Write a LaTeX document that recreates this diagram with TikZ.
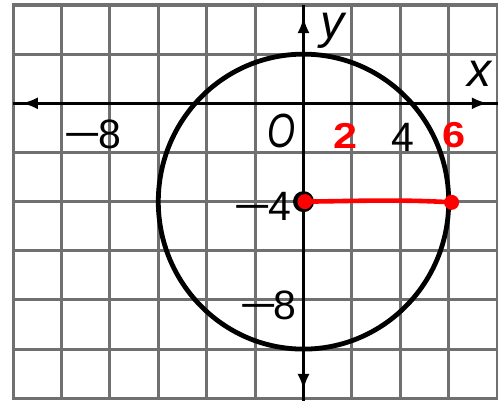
\documentclass[tikz,border=0pt]{standalone}
\usepackage{fontspec}
\usepackage{graphicx}
\setmainfont{Liberation Sans}
\usetikzlibrary{arrows.meta}
\definecolor{gridgray}{RGB}{112,112,112}
\definecolor{inkred}{RGB}{255,0,0}
\begin{document}
\begin{tikzpicture}[x=1pt,y=-1pt,
  gridline/.style={draw=gridgray,line width=3.1pt,line cap=rect},
  axisline/.style={draw=black,line width=2.9pt},
  tipline/.style={draw=black,line width=2.9pt,-{Latex[length=16pt,width=12pt]}},
  curveline/.style={draw=black,line width=4.8pt},
  numlbl/.style={inner sep=0pt,font=\fontsize{41}{41}\selectfont},
  letlbl/.style={inner sep=0pt,font=\fontsize{48}{48}\selectfont\itshape},
  redlbl/.style={inner sep=0pt,text=inkred,font=\fontsize{36}{36}\selectfont\bfseries},
  reddot/.style={circle,fill=inkred,inner sep=0pt,minimum size=15pt},
  blackdot/.style={circle,fill=black,inner sep=0pt,minimum size=21pt},
  redline/.style={draw=inkred,line width=4.6pt,line cap=round}]
\useasboundingbox (0,0) rectangle (498,400);
\fill[white] (0,0) rectangle (498,400);
\begin{scope}[shift={(303.5,103.3)},x=24.2pt,y=24.58pt]
  \foreach \i in {-12,-10,...,8} \draw[gridline] (\i,-12) -- (\i,4);
  \foreach \j in {-12,-10,...,4} \draw[gridline] (-12,\j) -- (8,\j);
  \coordinate (xl) at (-12,0);
  \coordinate (xr) at (8.1,0);
  \coordinate (yt) at (0,4);
  \coordinate (yb) at (0,-12.1);
  \coordinate (o) at (0,0);
  \coordinate (xtipl) at (-11.64,0);
  \coordinate (xtipr) at (7.62,0);
  \coordinate (ytipt) at (0,3.51);
  \coordinate (ytipb) at (0,-11.66);
  \draw[axisline] (xl) -- (xr);
  \draw[axisline] (yt) -- (yb);
  \draw[tipline] (o) -- (xtipl);
  \draw[tipline] (o) -- (xtipr);
  \draw[tipline] (o) -- (ytipt);
  \draw[tipline] (o) -- (ytipb);
  \draw[curveline] (0,-4) ellipse [x radius=6, y radius=6];
  \node[blackdot] (cb) at (0,-4) {};
  \node[reddot] (cr) at (0.06,-4) {};
  \node[reddot] (rp) at (6.12,-4.03) {};
  \draw[redline] (cr.center) .. controls (2,-3.98) and (4,-3.9) .. (rp.center);
\end{scope}
\node[numlbl] (xm8) at (92.5,134) {\scalebox{1.6}[1]{−}\kern-0.1em 8};
\node[letlbl] (olbl) at (281,131) {\scalebox{0.75}[1]{O}};
\node[redlbl] (two) at (346,136) {\scalebox{1.2}[1]{2}};
\node[numlbl] (four) at (402.5,137) {4};
\node[redlbl] (six) at (454,135) {\scalebox{1.15}[1]{6}};
\node[letlbl] (xlbl) at (479,74) {x};
\node[letlbl] (ylbl) at (332,31) {y};
\node[numlbl] (ym4) at (262.5,206) {\scalebox{1.6}[1]{−}\kern-0.1em 4};
\node[numlbl] (ym8) at (268,305) {\scalebox{1.6}[1]{−}\kern-0.1em 8};
\end{tikzpicture}
\end{document}
